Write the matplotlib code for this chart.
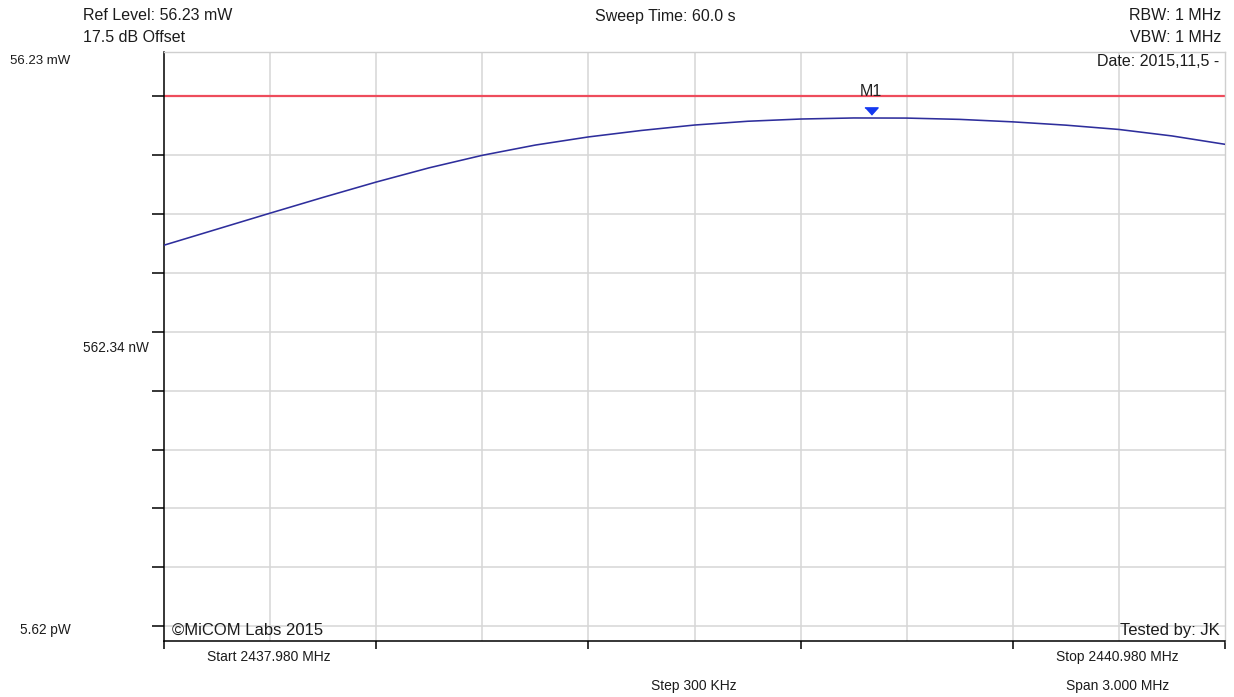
import numpy as np
import matplotlib
matplotlib.use("Agg")
import matplotlib.pyplot as plt
from matplotlib import transforms
from matplotlib.ticker import NullLocator

plt.rcParams['font.family'] = ['Liberation Sans', 'DejaVu Sans']

# Sweep settings
start_mhz = 2437.980
stop_mhz = 2440.980
grid_step_mhz = 0.300

# Measured trace (dBm) across the sweep
freq_mhz = [2437.98, 2438.13, 2438.28, 2438.43, 2438.58, 2438.73, 2438.88,
            2439.03, 2439.18, 2439.33, 2439.48, 2439.63, 2439.78, 2439.93,
            2440.08, 2440.23, 2440.38, 2440.53, 2440.68, 2440.83, 2440.98]
level_dbm = [-15.3, -12.58, -9.86, -7.18, -4.58, -2.16, -0.04,
             1.70, 3.08, 4.18, 5.10, 5.74, 6.12, 6.30,
             6.28, 6.06, 5.64, 5.08, 4.35, 3.25, 1.83]

# Limit line and peak marker
limit_dbm = 10.0
marker_label = "M1"
marker_freq_mhz = 2439.98
marker_dbm = 6.3

# Display range: 17.5 dBm (56.23 mW) down to -82.5 dBm (5.62 pW)
top_dbm = 17.5
bottom_dbm = -82.5
grid_dbm = [10, 0, -10, -20, -30, -40, -50, -60, -70, -80]


def dbm_to_mw(v):
    return 10 ** (np.asarray(v, dtype=float) / 10.0)


W, H = 1234, 697
fig = plt.figure(figsize=(W / 100, H / 100), dpi=100)
fig.patch.set_facecolor("white")
ax = fig.add_axes([164 / W, 56 / H, 1061 / W, 589 / H])

ax.set_yscale("log")
ax.set_xlim(start_mhz, stop_mhz)
ax.set_ylim(dbm_to_mw(bottom_dbm), dbm_to_mw(top_dbm))
ax.yaxis.set_minor_locator(NullLocator())
ax.xaxis.set_minor_locator(NullLocator())

grid_color = "#d6d6d6"
xgrid = np.arange(start_mhz, stop_mhz + 1e-6, grid_step_mhz)
for xv in xgrid[1:-1]:
    ax.axvline(xv, color=grid_color, lw=1.1, zorder=0)
for gv in grid_dbm:
    ax.axhline(dbm_to_mw(gv), color=grid_color, lw=1.1, zorder=0)

# Ticks: left ticks on every decade, bottom ticks every other division
ax.set_yticks(dbm_to_mw(grid_dbm))
ax.set_yticklabels([])
ax.set_xticks(xgrid[::2])
ax.set_xticklabels([])
ax.tick_params(axis="y", direction="out", length=9, width=1.1, color="black")
ax.tick_params(axis="x", direction="out", length=5.5, width=1.1, color="black")

for side in ("left", "bottom"):
    ax.spines[side].set_color("black")
    ax.spines[side].set_linewidth(1.1)
for side in ("top", "right"):
    ax.spines[side].set_color("#cfcfcf")
    ax.spines[side].set_linewidth(1.0)

# Limit line
ax.axhline(dbm_to_mw(limit_dbm), color="#ee4c5c", lw=1.6, zorder=2)

# Trace
ax.plot(freq_mhz, dbm_to_mw(level_dbm), color="#2e2e9c", lw=1.15, zorder=3)

# Peak marker
mk_trans = transforms.offset_copy(ax.transData, fig=fig, x=0, y=6.5, units="dots")
ax.plot([marker_freq_mhz], [dbm_to_mw(marker_dbm)], transform=mk_trans,
        marker=[(-1, 0.55), (1, 0.55), (0, -0.55)], ms=9.5,
        color="#1438f0", mec="#1438f0", ls="none", zorder=4)
ax.annotate(marker_label, xy=(marker_freq_mhz, dbm_to_mw(marker_dbm)),
            xytext=(0, 26.5), textcoords="offset pixels",
            ha="center", va="center", fontsize=11.5, color="#222222", zorder=5)

txt = "#1c1c1c"


def ftext(x, y, s, size, ha="left"):
    fig.text(x / W, 1 - y / H, s, ha=ha, va="center", fontsize=size, color=txt)


# Header
ftext(83, 16, "Ref Level: 56.23 mW", 11.5)
ftext(83, 37, "17.5 dB Offset", 11.5)
ftext(665, 17, "Sweep Time: 60.0 s", 11.5, ha="center")
ftext(1221, 16, "RBW: 1 MHz", 11.5, ha="right")
ftext(1221, 37, "VBW: 1 MHz", 11.5, ha="right")
ftext(1219, 61, "Date: 2015,11,5 -", 11.5, ha="right")

# Level labels
ftext(10, 61, "56.23 mW", 9.5)
ftext(83, 348, "562.34 nW", 9.8)
ftext(20, 630, "5.62 pW", 9.8)

# Footer inside the plot
ftext(172, 630, "\u00a9MiCOM Labs 2015", 12)
ftext(1220, 630, "Tested by: JK", 12, ha="right")

# Frequency annotations
ftext(207, 657, "Start 2437.980 MHz", 10)
ftext(1056, 657, "Stop 2440.980 MHz", 10)
ftext(694, 686, "Step 300 KHz", 10, ha="center")
ftext(1066, 686, "Span 3.000 MHz", 10)

fig.savefig("out.png", dpi=100, facecolor="white")
